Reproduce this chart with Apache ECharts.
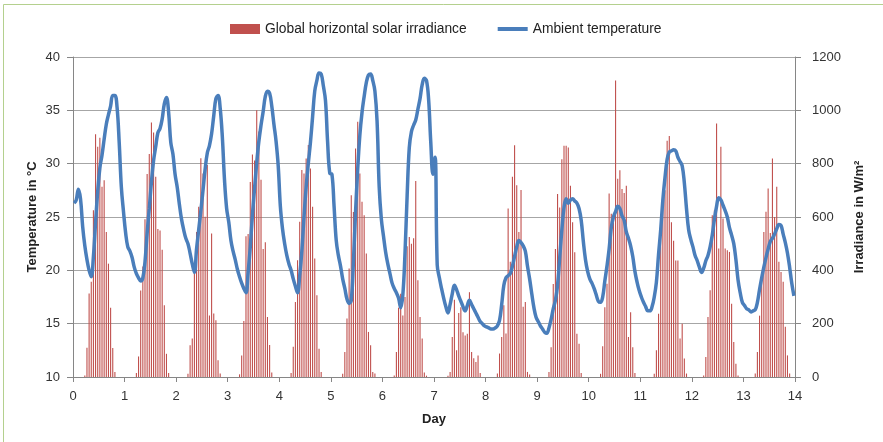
<!DOCTYPE html>
<html><head><meta charset="utf-8">
<script src="https://cdn.jsdelivr.net/npm/echarts/dist/echarts.min.js"></script>
<style>html,body{margin:0;padding:0;background:#fff}#c{width:883px;height:442px}</style>
</head><body><div id="c"></div>
<script>
// Day ticks of the x axis
const dayTicks = [0,1,2,3,4,5,6,7,8,9,10,11,12,13,14];
const hoursPerDay = 24;
const seriesNames = ['Global horizontal solar irradiance', 'Ambient temperature'];

// Hourly ambient temperature in °C (24 values per day, days 0..13)
const temperature = [
26.3,26.6,27.6,26.7,24.1,22.3,21.0,20.0,19.4,21.3,24.5,27.4,29.6,30.8,32.3,33.7,34.6,35.4,36.4,36.4,35.3,32.0,27.8,25.5,
23.5,22.2,21.8,21.2,20.3,19.7,19.3,19.0,19.3,20.8,23.5,25.8,28.3,30.3,31.6,32.9,33.3,34.2,35.6,36.2,34.8,32.0,30.9,29.0,
27.8,26.2,24.8,23.8,23.0,22.5,21.6,20.6,19.8,22.0,23.8,25.6,27.5,29.5,31.0,31.7,32.8,34.5,36.1,36.4,35.2,32.5,28.5,25.8,
24.5,22.8,21.8,21.0,20.1,19.4,18.8,18.3,17.9,19.8,22.2,25.2,27.7,30.1,32.1,33.6,34.9,36.3,36.8,36.6,35.4,33.7,32.1,29.8,
26.0,23.9,22.5,21.4,20.6,20.0,19.2,18.5,17.9,19.5,21.8,25.0,27.8,30.0,32.0,34.4,36.8,37.8,38.5,38.4,37.3,35.9,32.0,29.1,
29.0,26.0,22.8,21.4,20.4,19.2,18.3,17.3,16.9,17.2,20.8,25.5,29.5,32.7,34.8,36.3,37.6,38.3,38.4,37.8,36.8,34.0,27.8,24.8,
23.2,21.7,20.6,19.7,18.8,18.3,17.9,17.4,16.5,17.7,21.6,27.0,31.5,33.0,33.6,34.1,35.1,36.1,37.4,38.0,37.8,36.0,32.0,29.0,
30.6,20.5,19.3,18.3,17.4,16.6,16.0,16.8,17.8,18.6,18.2,17.6,17.1,16.6,16.2,16.7,17.2,16.8,16.4,16.0,15.6,15.2,15.0,14.8,
14.7,14.6,14.5,14.5,14.6,14.8,15.3,16.8,18.6,19.3,19.5,19.7,20.4,21.3,22.2,22.8,22.6,22.3,21.8,20.4,19.2,17.8,16.5,15.6,
15.2,14.8,14.5,14.2,14.1,14.6,15.4,16.4,17.2,18.6,21.2,23.8,25.9,26.7,26.3,26.6,26.7,26.5,26.3,25.8,24.7,22.7,21.0,19.9,
19.2,18.8,18.3,17.7,17.1,17.0,17.5,19.0,20.4,22.0,24.0,25.0,25.5,26.0,25.8,25.1,24.7,23.6,23.0,22.3,21.3,19.9,18.9,18.1,
17.5,17.0,16.6,16.2,16.2,16.6,17.5,18.9,21.5,23.8,26.6,28.7,30.4,31.1,31.2,31.3,31.2,30.6,30.2,29.8,28.2,25.8,23.8,22.9,
22.2,21.4,20.9,20.3,19.8,20.2,20.9,21.4,22.2,23.3,24.8,26.0,26.8,26.6,26.1,25.6,25.0,24.0,23.3,22.5,21.0,19.1,17.9,17.0,
16.7,16.4,16.3,16.1,16.2,16.3,17.0,18.2,19.3,20.3,21.2,22.0,22.7,23.0,23.4,23.9,24.3,24.2,23.4,22.6,21.6,20.3,18.8,17.6
];

// Hourly global horizontal solar irradiance in W/m² (24 values per day)
const irradiance = [
0,0,0,0,0,6,110,313,357,625,910,863,897,713,738,544,425,260,109,19,0,0,0,0,
0,0,0,0,0,15,77,324,414,592,761,836,954,917,751,555,549,477,269,87,15,0,0,0,
0,0,0,0,0,12,119,144,420,544,638,820,763,601,795,231,538,238,213,63,13,0,0,0,
0,0,0,0,0,10,81,210,528,536,731,834,812,1000,921,740,480,505,225,120,17,0,0,0,
0,0,0,0,0,15,113,281,438,582,776,763,819,870,782,638,444,307,106,19,0,0,0,0,
0,0,0,0,0,12,94,219,407,682,619,857,957,763,657,607,463,169,119,19,13,0,0,0,
0,0,0,0,0,6,94,260,312,231,300,490,525,500,520,735,363,225,144,17,5,0,0,0,
0,0,0,0,0,0,5,19,150,290,100,240,262,168,156,162,318,94,70,56,81,15,0,0,
0,0,0,0,0,13,88,150,269,163,632,432,751,869,719,544,701,263,281,19,9,0,0,0,
0,0,0,0,0,19,112,349,480,686,636,817,867,867,861,717,580,468,162,125,15,0,0,0,
0,0,0,0,0,12,115,262,350,688,612,580,1112,743,775,705,690,717,150,243,112,15,0,0,
0,0,0,0,0,0,12,100,237,560,636,700,886,904,580,511,437,437,144,200,69,13,0,0,
0,0,0,0,0,6,75,225,325,607,625,951,482,863,594,482,475,469,275,131,50,6,0,0,
0,0,0,0,0,13,94,230,388,544,620,707,540,819,600,713,432,394,357,188,81,13,0,0
];

const dayOf = i => (i + 0.5) / hoursPerDay;
const irrData = irradiance.map((v, i) => [dayOf(i), v]);
const tempData = temperature.map((v, i) => [dayOf(i), v]);

const FONT = 'Liberation Sans';
const gridCol = '#a6a6a6';
const axisCol = '#868686';
const chart = echarts.init(document.getElementById('c'), null, {renderer: 'canvas'});
chart.setOption({
  animation: false,
  backgroundColor: '#fff',
  textStyle: {fontFamily: FONT},
  graphic: [{type: 'rect', shape: {x: 3.5, y: 4.5, width: 900, height: 460},
    style: {fill: 'none', stroke: '#b4d08e', lineWidth: 1}, silent: true, z: -1}],
  legend: {
    left: 225, top: 17, itemWidth: 30, itemHeight: 10, itemGap: 31,
    textStyle: {fontFamily: FONT, fontSize: 13.8, color: '#222'},
    data: [
      {name: seriesNames[0], icon: 'rect'},
      {name: seriesNames[1], icon: 'path://M0,0H30V4H0Z'}
    ]
  },
  grid: {left: 73, right: 88, top: 57, bottom: 65, containLabel: false},
  xAxis: {
    type: 'value', min: dayTicks[0], max: dayTicks[dayTicks.length - 1], interval: 1,
    name: 'Day', nameLocation: 'middle', nameGap: 36, nameMoveOverlap: false,
    nameTextStyle: {fontFamily: FONT, fontSize: 13, fontWeight: 'bold', color: '#222'},
    axisLine: {show: true, lineStyle: {color: axisCol, width: 1}},
    axisTick: {show: true, length: 5, lineStyle: {color: axisCol}},
    axisLabel: {fontFamily: FONT, fontSize: 13, color: '#333', margin: 13},
    splitLine: {show: false}
  },
  yAxis: [{
    type: 'value', min: 10, max: 40, interval: 5,
    name: 'Temperature in °C', nameLocation: 'middle', nameGap: 34, nameRotate: 90,
    nameMoveOverlap: false,
    nameTextStyle: {fontFamily: FONT, fontSize: 13, fontWeight: 'bold', color: '#222'},
    axisLine: {show: true, lineStyle: {color: axisCol}},
    axisTick: {show: true, length: 6, lineStyle: {color: axisCol}},
    axisLabel: {fontFamily: FONT, fontSize: 13, color: '#333', margin: 13},
    splitLine: {show: true, lineStyle: {color: gridCol, width: 1}}
  }, {
    type: 'value', min: 0, max: 1200, interval: 200, position: 'right',
    name: 'Irradiance in W/m²', nameLocation: 'middle', nameGap: 58, nameRotate: 90,
    nameMoveOverlap: false,
    nameTextStyle: {fontFamily: FONT, fontSize: 13, fontWeight: 'bold', color: '#222'},
    axisLine: {show: true, lineStyle: {color: axisCol}},
    axisTick: {show: true, length: 6, lineStyle: {color: axisCol}},
    axisLabel: {fontFamily: FONT, fontSize: 13, color: '#333', margin: 17, formatter: v => String(v)},
    splitLine: {show: false}
  }],
  series: [{
    name: seriesNames[0], type: 'bar', yAxisIndex: 1, data: irrData,
    barWidth: 1.1, itemStyle: {color: '#C0504D'}, z: 2
  }, {
    name: seriesNames[1], type: 'line', yAxisIndex: 0, data: tempData,
    smooth: 0.4, symbol: 'none', showSymbol: false,
    lineStyle: {color: '#4A7EBB', width: 3.5}, itemStyle: {color: '#4A7EBB'}, z: 3
  }]
});
</script></body></html>
